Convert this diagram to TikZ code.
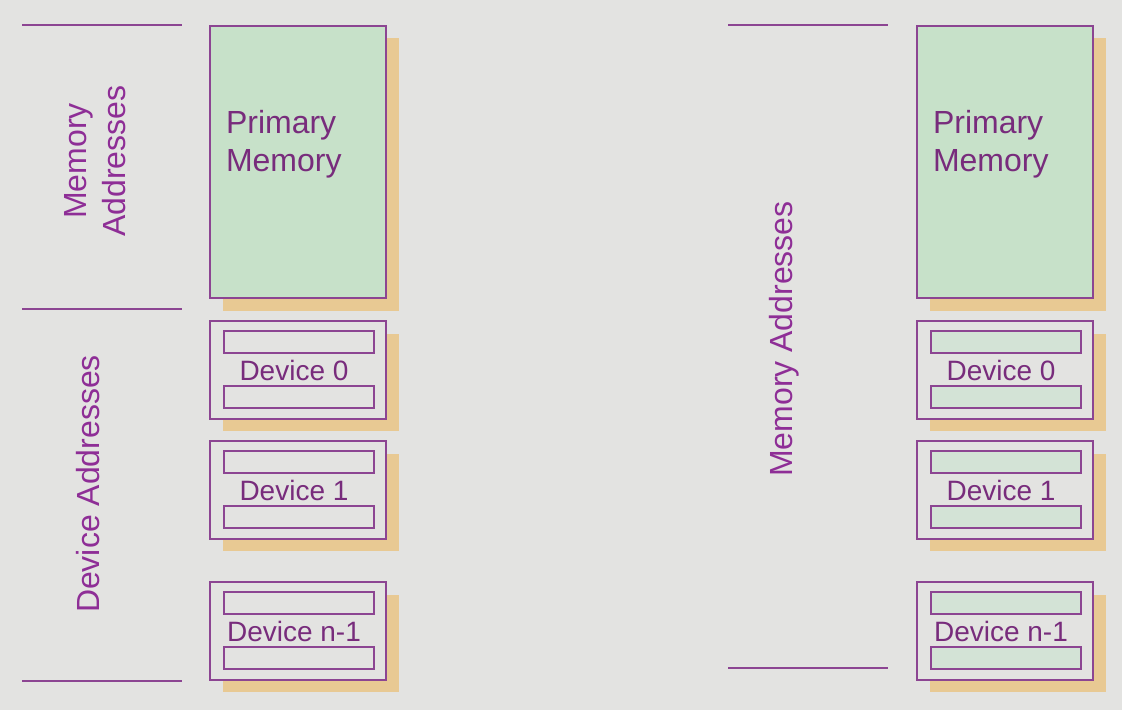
\documentclass[tikz,border=0pt]{standalone}
\usepackage{fontspec}
\setmainfont{Liberation Sans}
\definecolor{bgc}{HTML}{E3E3E1}
\definecolor{memgreen}{HTML}{C7E1C9}
\definecolor{shadowc}{HTML}{E8C993}
\definecolor{edgec}{HTML}{8C4592}
\definecolor{txtc}{HTML}{782C7C}
\definecolor{labc}{HTML}{8E2E96}
\definecolor{barg}{HTML}{D3E3D6}
\tikzset{
  every node/.style={inner sep=0pt, outer sep=0pt},
  memblock/.style={draw=edgec, line width=1.5pt, fill=memgreen, minimum width=176pt, minimum height=272pt},
  devblock/.style={draw=edgec, line width=1.5pt, fill=bgc, minimum width=176pt, minimum height=98pt},
  barblock/.style={draw=edgec, line width=1.3pt, minimum width=150pt, minimum height=22pt},
  shadowblock/.style={fill=shadowc},
  devtext/.style={text=txtc, font=\fontsize{28}{32}\selectfont},
  memtext/.style={text=txtc, font=\fontsize{32}{38}\selectfont, align=left, anchor=north west},
  sidelabel/.style={text=labc, font=\fontsize{32}{39}\selectfont, rotate=90, align=center},
  rangeline/.style={draw=edgec, line width=1.5pt}
}
\begin{document}
\begin{tikzpicture}[x=1pt, y=-1pt]
\fill[bgc] (0,0) rectangle (1122,710);
\useasboundingbox (0,0) rectangle (1122,710);

% ---------- LEFT ----------
\coordinate (lt1) at (22,25);  \coordinate (lt2) at (182,25);
\coordinate (lm1) at (22,309); \coordinate (lm2) at (182,309);
\coordinate (lb1) at (22,681); \coordinate (lb2) at (182,681);
\draw[rangeline] (lt1) -- (lt2);
\draw[rangeline] (lm1) -- (lm2);
\draw[rangeline] (lb1) -- (lb2);
\node[sidelabel] (lmemlab) at (95.5,161) {Memory\\Addresses};
\node[sidelabel] (ldevlab) at (88.5,484) {Device Addresses};

% primary memory (left)
\fill[shadowblock] (223,38) rectangle (399,311);
\node[memblock] (lpm) at (298,162) {};
\node[memtext] (lpmtext) at (226,110) {Primary\\Memory};

% devices (left)
\foreach \nm/\cy/\lab in {ld0/370/{Device 0}, ld1/490/{Device 1}, ldn/631/{Device n-1}}{
  \fill[shadowblock] (223,\cy-36) rectangle (399,\cy+61);
  \node[devblock] (\nm) at (298,\cy) {};
  \node[barblock, fill=bgc] (\nm-top) at (299,\cy-28) {};
  \node[barblock, fill=bgc] (\nm-bot) at (299,\cy+27) {};
  \node[devtext] (\nm-text) at (294,\cy) {\lab};
}

% ---------- RIGHT ----------
\coordinate (rt1) at (728,25);  \coordinate (rt2) at (888,25);
\coordinate (rb1) at (728,668); \coordinate (rb2) at (888,668);
\draw[rangeline] (rt1) -- (rt2);
\draw[rangeline] (rb1) -- (rb2);
\node[sidelabel] (rmemlab) at (784,339) {Memory Addresses};

\fill[shadowblock] (930,38) rectangle (1106,311);
\node[memblock] (rpm) at (1005,162) {};
\node[memtext] (rpmtext) at (933,110) {Primary\\Memory};

\foreach \nm/\cy/\lab in {rd0/370/{Device 0}, rd1/490/{Device 1}, rdn/631/{Device n-1}}{
  \fill[shadowblock] (930,\cy-36) rectangle (1106,\cy+61);
  \node[devblock] (\nm) at (1005,\cy) {};
  \node[barblock, fill=barg] (\nm-top) at (1006,\cy-28) {};
  \node[barblock, fill=barg] (\nm-bot) at (1006,\cy+27) {};
  \node[devtext] (\nm-text) at (1001,\cy) {\lab};
}
\end{tikzpicture}
\end{document}
